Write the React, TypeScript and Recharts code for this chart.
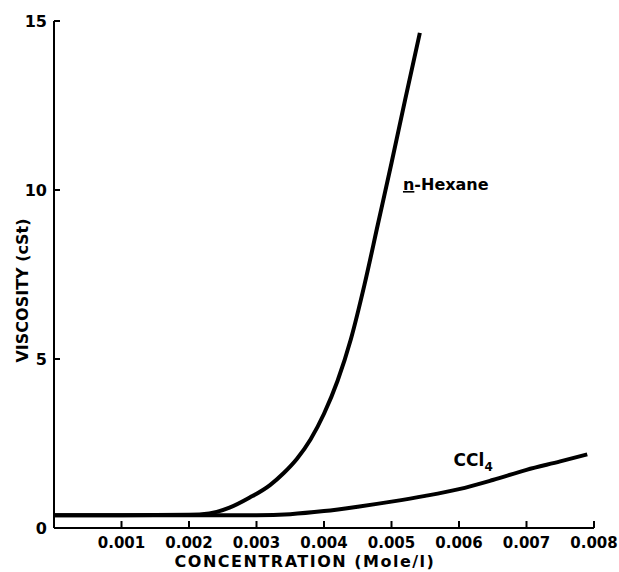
import React from 'react';
import { LineChart, Line, XAxis, YAxis, ReferenceDot } from 'recharts';

// concentration (mole/l) vs viscosity (cSt)
const hexane = [
    { c: 0, v: 0.38 },
    { c: 0.001, v: 0.38 },
    { c: 0.002, v: 0.39 },
    { c: 0.0023, v: 0.43 },
    { c: 0.0026, v: 0.6 },
    { c: 0.0029, v: 0.9 },
    { c: 0.0032, v: 1.27 },
    { c: 0.0034, v: 1.62 },
    { c: 0.0036, v: 2.05 },
    { c: 0.0038, v: 2.62 },
    { c: 0.004, v: 3.38 },
    { c: 0.0042, v: 4.35 },
    { c: 0.0044, v: 5.6 },
    { c: 0.0046, v: 7.2 },
    { c: 0.0048, v: 9.0 },
    { c: 0.005, v: 10.8 },
    { c: 0.0052, v: 12.65 },
    { c: 0.00542, v: 14.65 },
];

const ccl4 = [
    { c: 0, v: 0.38 },
    { c: 0.001, v: 0.38 },
    { c: 0.002, v: 0.38 },
    { c: 0.003, v: 0.38 },
    { c: 0.0035, v: 0.41 },
    { c: 0.004, v: 0.5 },
    { c: 0.0045, v: 0.63 },
    { c: 0.005, v: 0.78 },
    { c: 0.0055, v: 0.95 },
    { c: 0.006, v: 1.15 },
    { c: 0.0065, v: 1.42 },
    { c: 0.007, v: 1.72 },
    { c: 0.0075, v: 1.97 },
    { c: 0.0079, v: 2.18 },
];

const xTicks = [0.001, 0.002, 0.003, 0.004, 0.005, 0.006, 0.007, 0.008];
const yTicks = [0, 5, 10, 15];

const FONT = '"DejaVu Sans", sans-serif';

const XTick = ({ x, y, payload }: any) => (
    <g>
        <line x1={x} y1={y} x2={x} y2={y - 7} stroke="#000" strokeWidth={2} />
        <text x={x} y={y + 20} textAnchor="middle" fontFamily={FONT} fontWeight="bold" fontSize={15} fill="#000">
            {payload.value.toFixed(3)}
        </text>
    </g>
);

const YTick = ({ x, y, payload }: any) => (
    <g>
        <line x1={x} y1={y} x2={x + 6} y2={y} stroke="#000" strokeWidth={2} />
        <text x={x - 7} y={y + 6} textAnchor="end" fontFamily={FONT} fontWeight="bold" fontSize={16} fill="#000">
            {payload.value}
        </text>
    </g>
);

const YLabel = ({ viewBox }: any) => {
    const cx = viewBox.x + 22;
    const cy = viewBox.y + viewBox.height / 2 + 16;
    return (
        <text x={cx} y={cy} transform={`rotate(-90 ${cx} ${cy})`} textAnchor="middle" dominantBaseline="central"
            fontFamily={FONT} fontWeight="bold" fontSize={16} fill="#000">
            VISCOSITY (cSt)
        </text>
    );
};

const XLabel = ({ viewBox }: any) => (
    <text x={viewBox.x + viewBox.width / 2 - 19} y={viewBox.y + 39} textAnchor="middle" letterSpacing={1.5}
        fontFamily={FONT} fontWeight="bold" fontSize={16} fill="#000">
        CONCENTRATION (Mole/l)
    </text>
);

const HexaneLabel = ({ viewBox }: any) => (
    <text x={viewBox.x} y={viewBox.y} fontFamily={FONT} fontWeight="bold" fontSize={16} fill="#000">
        <tspan textDecoration="underline">n</tspan>-Hexane
    </text>
);

const CclLabel = ({ viewBox }: any) => (
    <text x={viewBox.x} y={viewBox.y} fontFamily={FONT} fontWeight="bold" fontSize={17} fill="#000">
        CCl<tspan dy={5} fontSize={12}>4</tspan>
    </text>
);

export default function App() {
    return (
        <div style={{ position: 'absolute', left: 0, top: 0, width: 619, height: 572, background: '#fff' }}>
            <LineChart width={619} height={572} margin={{ top: 21, right: 25, left: 0, bottom: 0 }}>
                <XAxis
                    type="number"
                    dataKey="c"
                    domain={[0, 0.008]}
                    ticks={xTicks}
                    height={44}
                    tickSize={0}
                    tickMargin={0}
                    tickLine={false}
                    axisLine={{ stroke: '#000', strokeWidth: 2 }}
                    tick={<XTick />}
                    label={<XLabel />}
                    allowDataOverflow
                />
                <YAxis
                    type="number"
                    domain={[0, 15]}
                    ticks={yTicks}
                    width={54}
                    tickSize={0}
                    tickMargin={0}
                    tickLine={false}
                    axisLine={{ stroke: '#000', strokeWidth: 2 }}
                    tick={<YTick />}
                    label={<YLabel />}
                />
                <Line data={hexane} dataKey="v" type="monotone" stroke="#000" strokeWidth={4} dot={false} isAnimationActive={false} />
                <Line data={ccl4} dataKey="v" type="monotone" stroke="#000" strokeWidth={4} dot={false} isAnimationActive={false} />
                <ReferenceDot x={0.00517} y={10} r={0} fill="none" stroke="none" label={<HexaneLabel />} />
                <ReferenceDot x={0.00592} y={1.83} r={0} fill="none" stroke="none" label={<CclLabel />} />
            </LineChart>
        </div>
    );
}
